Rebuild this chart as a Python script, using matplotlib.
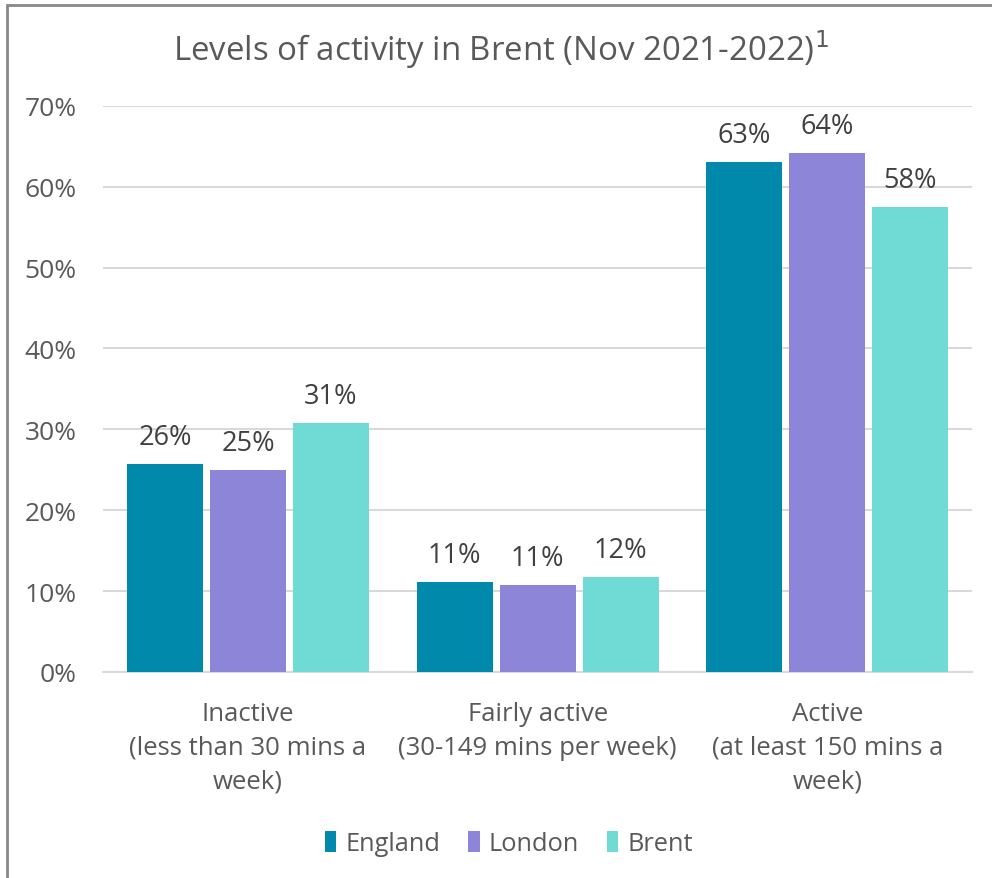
import numpy as np
import matplotlib.pyplot as plt
from matplotlib.patches import Rectangle

plt.rcParams['font.family'] = ['Open Sans', 'DejaVu Sans']

categories = ["Inactive\n(less than 30 mins a\nweek)",
              "Fairly active\n(30-149 mins per week)",
              "Active\n(at least 150 mins a\nweek)"]
series = ["England", "London", "Brent"]
england = [25.7, 11.1, 63.1]
london = [25.0, 10.8, 64.2]
brent = [30.8, 11.7, 57.5]
labels = [["26%", "11%", "63%"], ["25%", "11%", "64%"], ["31%", "12%", "58%"]]
colors = ["#0089AB", "#8C85D8", "#6FDBD4"]

fig = plt.figure(figsize=(9.92, 8.79), dpi=100)
ax = fig.add_axes([0.104, 0.2344, 0.876, 0.644])

x = np.arange(len(categories))
step = 0.2865
width = 0.262
for i, (name, vals) in enumerate(zip(series, [england, london, brent])):
    pos = x + (i - 1) * step
    ax.bar(pos, vals, width, color=colors[i], label=name, zorder=3)
    for p, v, t in zip(pos, vals, labels[i]):
        ax.text(p, v + 1.6, t, ha='center', va='bottom', fontsize=19.5,
                color='#404040')

ax.set_xlim(-0.5, 2.5)
ax.set_ylim(0, 70)
ax.set_yticks(np.arange(0, 71, 10))
ax.set_yticklabels([f"{v}%" for v in range(0, 71, 10)])
ax.yaxis.grid(True, color='#D9D9D9', linewidth=1.5, zorder=0)
ax.set_xticks(x)
ax.set_xticklabels(categories, linespacing=1.46)
ax.tick_params(axis='both', length=0, colors='#595959')
ax.tick_params(axis='y', pad=19, labelsize=19)
ax.tick_params(axis='x', pad=21, labelsize=18.5)
for s in ['top', 'right', 'left']:
    ax.spines[s].set_visible(False)
ax.spines['bottom'].set_color('#D9D9D9')
ax.spines['bottom'].set_linewidth(1.5)

fig.text(0.505, 0.944, "Levels of activity in Brent (Nov 2021-2022)$^1$",
         ha='center', va='center', fontsize=23.8, color='#595959')

leg = fig.legend(loc='center', bbox_to_anchor=(0.513, 0.039), ncol=3,
                 frameon=False, fontsize=18.3, handlelength=0.45,
                 handleheight=0.9, handletextpad=0.35, columnspacing=1.1)
for t in leg.get_texts():
    t.set_color('#595959')

# outer chart frame
fig.patches.append(Rectangle((0.0075, -0.05), 1.05, 1.043, transform=fig.transFigure,
                             fill=False, edgecolor='#888888', linewidth=2))

fig.savefig("out.png", dpi=100)
